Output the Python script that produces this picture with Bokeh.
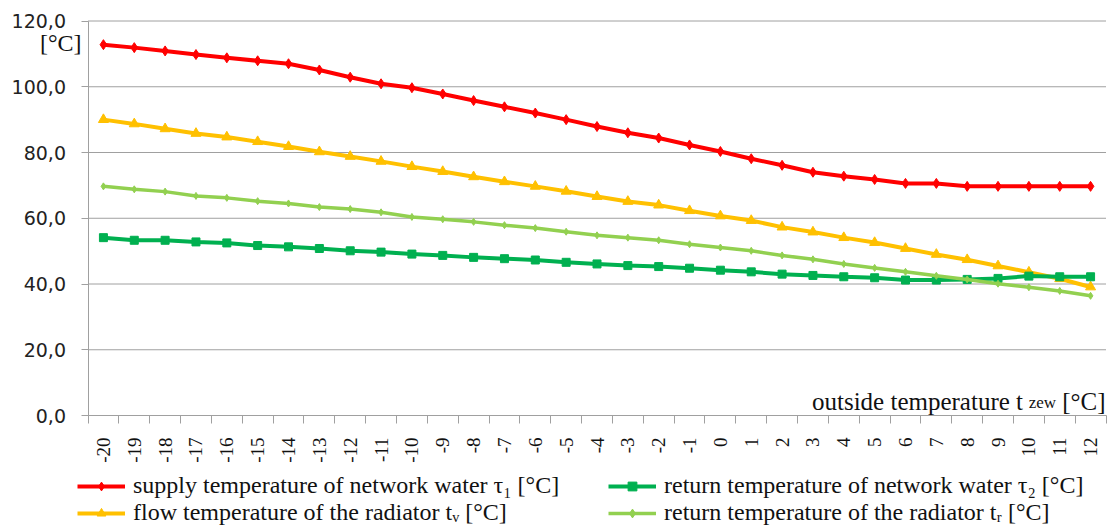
import math
from bokeh.plotting import figure
from bokeh.models import FixedTicker, Legend, LegendItem, Label, Range1d
from bokeh.embed import file_html
from bokeh.resources import INLINE

# ---- data ----
t_out = list(range(-20, 13))
supply_tau1 = [112.8, 111.9, 110.9, 109.8, 108.8, 107.9, 107.0, 105.1, 102.9, 100.9,
               99.7, 97.8, 95.8, 93.9, 92.0, 90.0, 87.9, 86.0, 84.4, 82.3,
               80.3, 78.1, 76.1, 74.0, 72.8, 71.8, 70.6, 70.6, 69.7, 69.7,
               69.7, 69.7, 69.7]
flow_tV = [90.0, 88.7, 87.2, 85.8, 84.7, 83.3, 81.8, 80.2, 78.8, 77.3,
           75.7, 74.2, 72.6, 71.1, 69.7, 68.2, 66.6, 65.1, 64.0, 62.3,
           60.7, 59.3, 57.3, 55.8, 54.1, 52.6, 50.8, 49.0, 47.4, 45.5,
           43.6, 41.6, 39.1]
return_tau2 = [54.1, 53.3, 53.3, 52.8, 52.5, 51.7, 51.3, 50.8, 50.1, 49.7,
               49.1, 48.7, 48.1, 47.7, 47.3, 46.6, 46.1, 45.6, 45.3, 44.8,
               44.2, 43.7, 43.0, 42.6, 42.2, 41.9, 41.2, 41.2, 41.4, 41.7,
               42.4, 42.2, 42.2]
return_tR = [69.7, 68.8, 68.1, 66.8, 66.2, 65.2, 64.5, 63.4, 62.8, 61.8,
             60.4, 59.7, 58.9, 57.9, 57.0, 55.9, 54.8, 54.1, 53.3, 52.1,
             51.1, 50.1, 48.7, 47.5, 46.1, 44.9, 43.7, 42.5, 41.4, 40.1,
             39.0, 37.9, 36.4]
y_ticks = [0, 20, 40, 60, 80, 100, 120]
y_tick_labels = ["0,0", "20,0", "40,0", "60,0", "80,0", "100,0", "120,0"]
x_tick_labels = [str(v) for v in t_out]

series_labels = [
    "supply temperature of network water \u03c4\u2081 [\u00b0C]",
    "flow temperature of the radiator t\u1d65 [\u00b0C]",
    "return temperature of network water \u03c4\u2082 [\u00b0C]",
    "return temperature of the radiator t\u1d63 [\u00b0C]",
]

SERIF = "Liberation Serif"
GRID = "#A0A0A0"
TXT = "#111111"

# category bounds of the x axis
x_lo = t_out[0] - 0.5
x_hi = t_out[-1] + 0.5

W, H = 1112, 529
px_left, px_right = 87.5, 1105.5      # plot area in pixels
px_top, px_bottom = 20.5, 415.0
sx = (px_right - px_left) / (x_hi - x_lo)
sy = (px_bottom - px_top) / (y_ticks[-1] - y_ticks[0])

p = figure(width=W, height=H, output_backend="svg", toolbar_location=None,
           x_range=Range1d(x_lo - px_left / sx, x_hi + (W - px_right) / sx),
           y_range=Range1d(-(H - px_bottom) / sy, y_ticks[-1] + px_top / sy),
           min_border=0)
p.outline_line_color = None
p.background_fill_color = "white"
p.border_fill_color = "white"
p.xgrid.grid_line_color = None
p.ygrid.grid_line_color = None

# horizontal gridlines limited to the plot area
p.segment(x0=[x_lo] * len(y_ticks), x1=[x_hi] * len(y_ticks), y0=y_ticks, y1=y_ticks,
          line_color=GRID, line_width=1)

# y axis
p.yaxis.fixed_location = x_lo
p.yaxis.bounds = (y_ticks[0], y_ticks[-1])
p.yaxis.ticker = FixedTicker(ticks=y_ticks)
p.yaxis.major_label_overrides = {t: l for t, l in zip(y_ticks, y_tick_labels)}
p.yaxis.axis_line_color = GRID
p.yaxis.major_tick_line_color = GRID
p.yaxis.major_tick_out = 7
p.yaxis.major_tick_in = 0
p.yaxis.minor_tick_line_color = None
p.yaxis.major_label_text_font = "DejaVu Sans"
p.yaxis.major_label_text_font_size = "19px"
p.yaxis.major_label_text_color = "#222222"
p.yaxis.major_label_standoff = 15

# x axis
p.xaxis.fixed_location = y_ticks[0]
p.xaxis.bounds = (x_lo, x_hi)
p.xaxis.ticker = FixedTicker(ticks=t_out, minor_ticks=[v - 0.5 for v in t_out] + [x_hi])
p.xaxis.major_label_overrides = {t: l for t, l in zip(t_out, x_tick_labels)}
p.xaxis.axis_line_color = GRID
p.xaxis.major_tick_line_color = None
p.xaxis.major_tick_out = 8
p.xaxis.major_tick_in = 0
p.xaxis.minor_tick_line_color = GRID
p.xaxis.minor_tick_out = 8
p.xaxis.minor_tick_in = 0
p.xaxis.major_label_orientation = math.pi / 2
p.xaxis.major_label_text_font = SERIF
p.xaxis.major_label_text_font_size = "19px"
p.xaxis.major_label_text_color = TXT
p.xaxis.major_label_standoff = 14

# series
styles = [
    (supply_tau1, "#FF0000", "diamond", 10, 4),
    (flow_tV, "#FFC000", "triangle", 10, 4),
    (return_tau2, "#00B050", "square", 8, 4),
    (return_tR, "#92D050", "diamond", 7, 3.5),
]
items = []
for (vals, col, mk, sz, lw), lab in zip(styles, series_labels):
    r1 = p.line(t_out, vals, line_color=col, line_width=lw)
    r2 = p.scatter(t_out, vals, marker=mk, size=sz, fill_color=col, line_color=col)
    items.append(LegendItem(label=lab, renderers=[r1, r2]))

legend = Legend(items=items, location=(77, 3), ncols=2, orientation="vertical",
                glyph_width=48, glyph_height=22, label_height=22, label_standoff=8,
                label_width=475, spacing=0, padding=0, margin=0,
                border_line_color=None, background_fill_alpha=0,
                label_text_font=SERIF, label_text_font_size="24px",
                label_text_line_height=1.0,
                label_text_color=TXT)
p.add_layout(legend, "center")

# unit label top-left
p.add_layout(Label(x=x_lo, y=113.2, x_offset=-6.5, text="[\u00b0C]", text_align="right",
                   text_baseline="alphabetic", text_font=SERIF,
                   text_font_size="24px", text_color=TXT))

# x axis title inside plot, bottom right
ty = 4.3
p.add_layout(Label(x=x_hi, y=ty, x_offset=-0.5, text="[\u00b0C]", text_align="right",
                   text_baseline="alphabetic", text_font=SERIF,
                   text_font_size="25px", text_color=TXT))
p.add_layout(Label(x=x_hi, y=ty, x_offset=-50, y_offset=-1.5, text="zew", text_align="right",
                   text_baseline="alphabetic", text_font=SERIF,
                   text_font_size="17px", text_color=TXT))
p.add_layout(Label(x=x_hi, y=ty, x_offset=-83, text="outside temperature t",
                   text_align="right", text_baseline="alphabetic", text_font=SERIF,
                   text_font_size="25px", text_color=TXT))

open("out.html", "w").write(file_html(p, INLINE))
